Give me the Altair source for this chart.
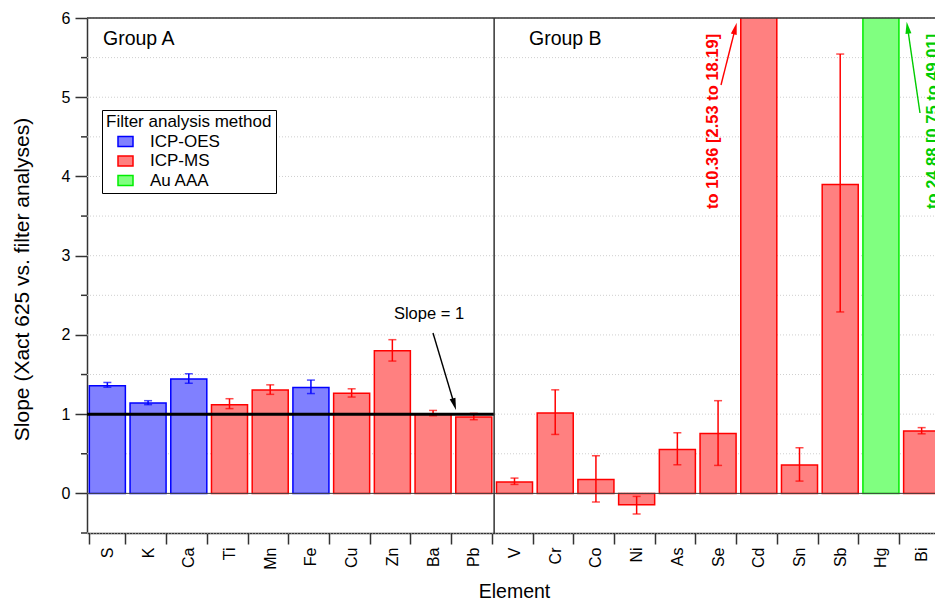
import math
import altair as alt
import pandas as pd

# ---- data -------------------------------------------------------------
elements = ["S", "K", "Ca", "Ti", "Mn", "Fe", "Cu", "Zn", "Ba", "Pb",
            "V", "Cr", "Co", "Ni", "As", "Se", "Cd", "Sn", "Sb", "Hg", "Bi"]
methods = ["ICP-OES", "ICP-OES", "ICP-OES", "ICP-MS", "ICP-MS", "ICP-OES",
           "ICP-MS", "ICP-MS", "ICP-MS", "ICP-MS",
           "ICP-MS", "ICP-MS", "ICP-MS", "ICP-MS", "ICP-MS", "ICP-MS",
           "ICP-MS", "ICP-MS", "ICP-MS", "Au AAA", "ICP-MS"]
slopes = [1.36, 1.14, 1.445, 1.12, 1.305, 1.335, 1.265, 1.80, 1.005, 0.965,
          0.143, 1.013, 0.176, -0.143, 0.555, 0.756, 10.36, 0.357, 3.90, 24.88, 0.786]
ci_low = [1.34, 1.12, 1.39, 1.07, 1.25, 1.26, 1.216, 1.67, 0.98, 0.93,
          0.113, 0.744, -0.109, -0.26, 0.361, 0.353, 2.53, 0.155, 2.29, 0.75, 0.752]
ci_high = [1.40, 1.17, 1.51, 1.195, 1.37, 1.43, 1.32, 1.94, 1.047, 1.01,
           0.193, 1.307, 0.475, -0.038, 0.765, 1.17, 18.19, 0.576, 5.545, 49.01, 0.83]
group_a = elements[:10]
group_b = elements[10:]

method_order = ["ICP-OES", "ICP-MS", "Au AAA"]
fill_colors = ["#8080ff", "#ff8080", "#80ff80"]
edge_colors = ["#0000ff", "#ff0000", "#00ee00"]

major_ticks = [0, 1, 2, 3, 4, 5, 6]
half_steps = [-0.5, 0, 0.5, 1, 1.5, 2, 2.5, 3, 3.5, 4, 4.5, 5, 5.5, 6]

df = pd.DataFrame({"Element": elements, "Method": methods, "Slope": slopes,
                   "Low": ci_low, "High": ci_high})

# ---- layout -----------------------------------------------------------
W, H = 848, 515
Y_MIN, Y_MAX = -0.5, 6
X_TITLE = "Element"
Y_TITLE = "Slope (Xact 625 vs. filter analyses)"
FONT = "Liberation Sans"
AXIS_GREY = "#333333"

x_scale = alt.Scale(domain=elements, range=[0, 855],
                    paddingInner=0.115, paddingOuter=0.0575)
y_scale = alt.Scale(domain=[Y_MIN, Y_MAX], nice=False, zero=False)
fill_scale = alt.Scale(domain=method_order, range=fill_colors)
edge_scale = alt.Scale(domain=method_order, range=edge_colors)

x_axis = alt.Axis(tickBand="extent", labelAngle=270, labelFontSize=16,
                  labelPadding=3, tickSize=11, tickWidth=1.5, tickColor=AXIS_GREY,
                  domainColor=AXIS_GREY, domainWidth=1.5, labelColor="black",
                  titleFontSize=19.5, titleFontWeight="normal", titleColor="black",
                  titleBaseline="alphabetic", titleX=427, titleY=64, grid=False)
y_axis = alt.Axis(values=major_ticks, format="d", tickSize=12,
                  tickWidth=1.5, tickColor=AXIS_GREY,
                  domainColor=AXIS_GREY, domainWidth=1.5, grid=False,
                  labelFontSize=16, labelPadding=5, labelColor="black",
                  titleFontSize=21, titleFontWeight="normal", titleColor="black",
                  titleX=-55, titleY=261)

legend = alt.Legend(title="Filter analysis method", orient="none",
                    legendX=15, legendY=92, strokeColor="black", fillColor="white",
                    padding=4, titleFontSize=17, titleFontWeight="normal",
                    titleColor="black", titlePadding=2, labelFontSize=17,
                    labelColor="black", symbolType="M-1,-0.67H1V0.67H-1Z",
                    symbolSize=225, symbolStrokeWidth=1.5, symbolOffset=11,
                    labelOffset=16, rowPadding=1.5, cornerRadius=0)

one = pd.DataFrame({"k": [0]})

# ---- dotted grid at every half unit, short minor ticks between labels ------
grid = alt.Chart(pd.DataFrame({"v": half_steps})).mark_rule(
    color="#cfcfcf", strokeWidth=1, strokeDash=[1, 2]).encode(
    y=alt.Y("v:Q", title=Y_TITLE), x=alt.value(0), x2=alt.value("width"))
minor = alt.Chart(pd.DataFrame({"v": [v for v in half_steps if v % 1 != 0]})).mark_rule(
    color=AXIS_GREY, strokeWidth=1.5).encode(
    y=alt.Y("v:Q", title=Y_TITLE), x=alt.value(-6), x2=alt.value(0))

# ---- bars ---------------------------------------------------------------
bars = alt.Chart(df).mark_bar(clip=True, strokeWidth=1.5).encode(
    x=alt.X("Element:N", scale=x_scale, sort=elements, axis=x_axis, title=X_TITLE),
    y=alt.Y("Slope:Q", scale=y_scale, axis=y_axis, title=Y_TITLE),
    y2=alt.datum(0),
    fill=alt.Fill("Method:N", scale=fill_scale, legend=legend),
    stroke=alt.Stroke("Method:N", scale=edge_scale, legend=legend),
)

# ---- error bars (only those that stay inside the axis range) --------------
err = df[df["High"] <= Y_MAX]
err_color = alt.Color("Method:N", scale=edge_scale, legend=None)
err_x = alt.X("Element:N", title=X_TITLE)
err_rule = alt.Chart(err).mark_rule(strokeWidth=1.5).encode(
    x=err_x, y=alt.Y("Low:Q", title=Y_TITLE), y2="High:Q", color=err_color)
cap_lo = alt.Chart(err).mark_tick(size=8, thickness=1.5, orient="horizontal").encode(
    x=err_x, y=alt.Y("Low:Q", title=Y_TITLE), color=err_color)
cap_hi = alt.Chart(err).mark_tick(size=8, thickness=1.5, orient="horizontal").encode(
    x=err_x, y=alt.Y("High:Q", title=Y_TITLE), color=err_color)

# ---- reference lines and frame ---------------------------------------------
zero_line = alt.Chart(pd.DataFrame({"v": [0]})).mark_rule(
    color="#444444", strokeWidth=1).encode(
    y=alt.Y("v:Q", title=Y_TITLE), x=alt.value(0), x2=alt.value("width"))

slope_df = pd.DataFrame({"start": [group_a[0]], "end": [group_a[-1]], "v": [1]})
slope_line = alt.Chart(slope_df).mark_rule(
    color="black", strokeWidth=3, xOffset=-2.35, x2Offset=2.35).encode(
    x=alt.X("start:N", bandPosition=0, title=X_TITLE),
    x2=alt.X2("end:N", bandPosition=1),
    y=alt.Y("v:Q", title=Y_TITLE))

divider = alt.Chart(pd.DataFrame({"first": [group_b[0]]})).mark_rule(
    color=AXIS_GREY, strokeWidth=1.5, xOffset=-2.35).encode(
    x=alt.X("first:N", bandPosition=0, title=X_TITLE),
    y=alt.value(0), y2=alt.value("height"))

top_rule = alt.Chart(one).mark_rule(color=AXIS_GREY, strokeWidth=1.5).encode(
    y=alt.value(0), x=alt.value(0), x2=alt.value("width"))


def label(text, x, y, **style):
    return alt.Chart(pd.DataFrame({"t": [text]})).mark_text(font=FONT, **style).encode(
        text="t:N", x=alt.value(x), y=alt.value(y))


HEAD = 12
HEAD_PATH = "M0,-1L0.5,1L-0.5,1Z"


def arrow(tail, tip, color):
    tx, ty = tail
    hx, hy = tip
    dx, dy = hx - tx, hy - ty
    n = math.hypot(dx, dy)
    ux, uy = dx / n, dy / n
    ang = math.degrees(math.atan2(dx, -dy)) % 360
    cx, cy = hx - ux * HEAD / 2, hy - uy * HEAD / 2
    shaft = alt.Chart(one).mark_rule(color=color, strokeWidth=1.4).encode(
        x=alt.value(tx), y=alt.value(ty), x2=alt.value(cx), y2=alt.value(cy))
    head = alt.Chart(one).mark_point(shape=HEAD_PATH, filled=True, size=HEAD * HEAD,
                                     angle=round(ang, 1), color=color, opacity=1,
                                     strokeWidth=0).encode(
        x=alt.value(cx), y=alt.value(cy))
    return [shaft, head]


i_cd, i_hg = elements.index("Cd"), elements.index("Hg")
cd_note = f"to {slopes[i_cd]:.2f} [{ci_low[i_cd]:.2f} to {ci_high[i_cd]:.2f}]"
hg_note = f"to {slopes[i_hg]:.2f} [{ci_low[i_hg]:.2f} to {ci_high[i_hg]:.2f}]"

notes = [
    label("Group A", 16, 26.5, fontSize=19.5, align="left", baseline="alphabetic", color="black"),
    label("Group B", 442, 26.5, fontSize=19.5, align="left", baseline="alphabetic", color="black"),
    label("Slope = 1", 342, 301, fontSize=16.5, align="center", baseline="alphabetic", color="black"),
    label(cd_note, 625.5, 191, fontSize=16.5, fontWeight="bold", angle=270,
          align="left", baseline="middle", color="#ff0000"),
    label(hg_note, 845.5, 191, fontSize=16.5, fontWeight="bold", angle=270,
          align="left", baseline="middle", color="#00cc00"),
]
notes += arrow((346, 315), (369, 392), "black")
notes += arrow((634, 67), (649.7, 4.7), "#ff0000")
notes += arrow((833, 95), (819.7, 3.7), "#00cc00")

chart = alt.layer(
    grid, bars, err_rule, cap_lo, cap_hi, zero_line, slope_line, divider,
    top_rule, minor, *notes
).properties(
    width=W, height=H,
    padding={"left": 87, "top": 18, "right": 0, "bottom": 66},
    autosize=alt.AutoSizeParams(type="none"),
).configure(font=FONT, background="white").configure_view(stroke=None)

chart.save("out.html", embed_options={"renderer": "svg", "actions": False})
